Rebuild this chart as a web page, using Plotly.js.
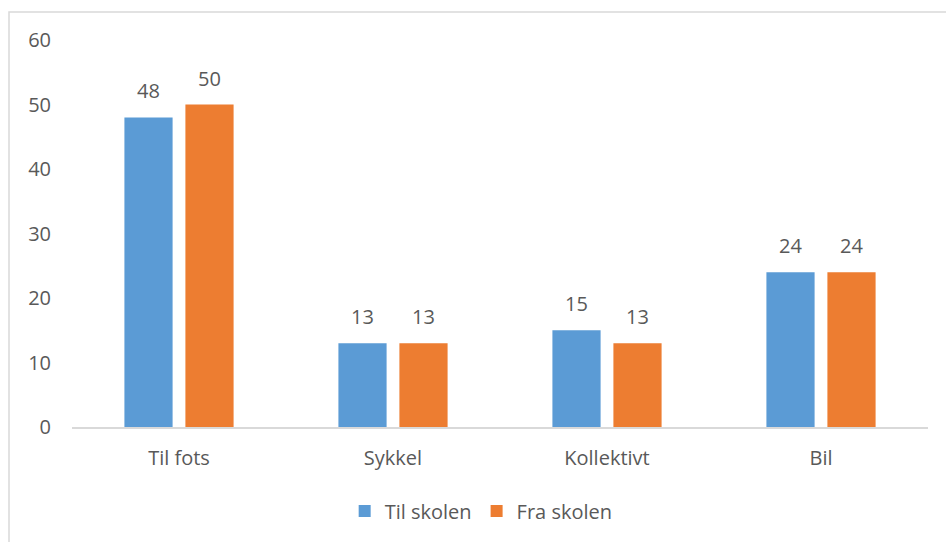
<!DOCTYPE html>
<html>
<head>
<meta charset="utf-8">
<script src="https://cdn.plot.ly/plotly-3.0.1.min.js"></script>
<style>
html,body{margin:0;padding:0;background:#fff;}
#chart{width:946px;height:542px;}
</style>
</head>
<body>
<div id="chart"></div>
<script>
const categories = ["Til fots", "Sykkel", "Kollektivt", "Bil"];
const seriesNames = ["Til skolen", "Fra skolen"];
const tilSkolen = [48, 13, 15, 24];
const fraSkolen = [50, 13, 13, 24];
const yTicks = [0, 10, 20, 30, 40, 50, 60];

const colors = ["#5B9BD5", "#ED7D31"];
const textColor = "#595959";
const fontFamily = "'Open Sans', 'Noto Sans', sans-serif";

const allSeries = [tilSkolen, fraSkolen];
const traces = allSeries.map((vals, i) => ({
  type: "bar",
  name: seriesNames[i],
  x: categories,
  y: vals,
  marker: {color: colors[i], line: {width: 0}},
  hoverinfo: "x+y+name"
}));

const annotations = [];
allSeries.forEach((vals, i) => {
  vals.forEach((v, j) => {
    annotations.push({
      x: categories[j], y: v, xref: "x", yref: "y",
      text: String(v), showarrow: false,
      xshift: i === 0 ? -30.5 : 30.5,
      yanchor: "bottom", yshift: 11,
      font: {family: fontFamily, size: 20, color: textColor}
    });
  });
});

const layout = {
  width: 946, height: 542,
  margin: {l: 72, r: 18, t: 40, b: 115},
  paper_bgcolor: "#ffffff",
  plot_bgcolor: "#ffffff",
  barmode: "group",
  bargap: 0.43,
  bargroupgap: 0.21,
  font: {family: fontFamily, size: 20, color: textColor},
  xaxis: {
    type: "category",
    showline: true, linecolor: "#d9d9d9", linewidth: 1.5,
    showgrid: false, zeroline: false, ticks: "",
    ticklabelstandoff: 12,
    tickfont: {family: fontFamily, size: 20, color: textColor}
  },
  yaxis: {
    range: [0, 60],
    tickvals: yTicks,
    ticktext: yTicks.map(String),
    showline: false, showgrid: false, zeroline: false, ticks: "",
    ticklabelstandoff: 20,
    tickfont: {family: fontFamily, size: 20, color: textColor}
  },
  legend: {
    orientation: "h",
    x: 0.478, xanchor: "center",
    y: -0.217, yanchor: "middle",
    font: {family: fontFamily, size: 20, color: textColor},
    itemclick: false
  },
  annotations: annotations,
  shapes: [{
    type: "rect", xref: "paper", yref: "paper",
    x0: -0.0736, x1: 1.03, y0: -0.32, y1: 1.0724,
    line: {color: "#d9d9d9", width: 1.5},
    fillcolor: "rgba(0,0,0,0)", layer: "below"
  }]
};

Plotly.newPlot("chart", traces, layout, {displayModeBar: false, staticPlot: true});
</script>
</body>
</html>
